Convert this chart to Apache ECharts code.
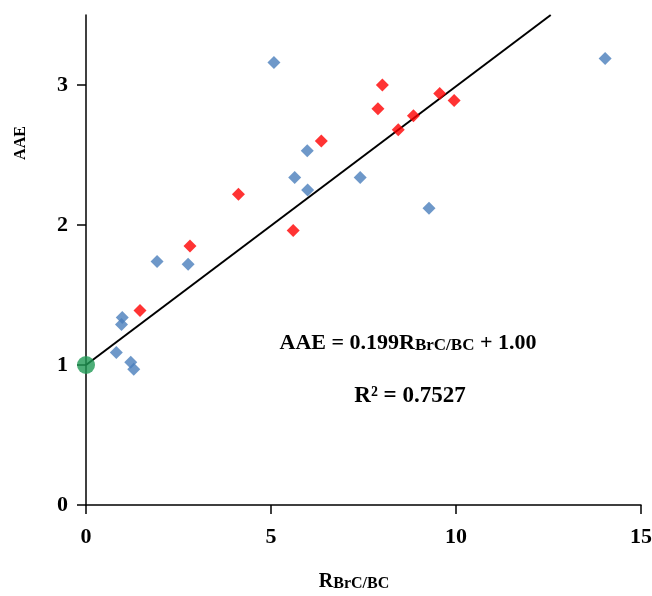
<!DOCTYPE html>
<html>
<head>
<meta charset="utf-8">
<script src="https://cdn.jsdelivr.net/npm/echarts@6/dist/echarts.min.js"></script>
<style>html,body{margin:0;padding:0;background:#fff}#c{width:652px;height:596px}</style>
</head>
<body>
<div id="c"></div>
<script>
// Blue series (x = R_BrC/BC, y = AAE)
const blueX = [5.08, 14.03, 5.98, 5.64, 5.99, 7.41, 9.27, 1.92, 2.76, 0.98, 0.96, 0.82, 1.21, 1.29];
const blueY = [3.16, 3.19, 2.53, 2.34, 2.25, 2.34, 2.12, 1.74, 1.72, 1.34, 1.29, 1.09, 1.02, 0.97];
// Red series
const redX = [8.01, 7.89, 8.44, 8.85, 9.56, 9.95, 6.36, 4.12, 5.60, 2.81, 1.46];
const redY = [3.00, 2.83, 2.68, 2.78, 2.94, 2.89, 2.60, 2.22, 1.96, 1.85, 1.39];
// Green origin point
const greenX = [0];
const greenY = [1.0];
// Regression line endpoints (AAE = 0.199 R + 1.00)
const fitX = [0, 12.56];
const fitY = [1.00, 3.50];
const xTicks = [0, 5, 10, 15];
const yTicks = [0, 1, 2, 3];

const zip = (a, b) => a.map((v, i) => [v, b[i]]);
const serif = 'Liberation Serif, Times New Roman, serif';

const chart = echarts.init(document.getElementById('c'));
chart.setOption({
  animation: false,
  backgroundColor: '#fff',
  grid: { left: 86, right: 11, top: 15, bottom: 91, containLabel: false, outerBoundsMode: 'none' },
  xAxis: {
    type: 'value', min: 0, max: 15, interval: 5,
    splitLine: { show: false },
    axisLine: { onZero: false, lineStyle: { color: '#000', width: 1.5 } },
    axisTick: { show: true, length: 9, customValues: xTicks, lineStyle: { color: '#000', width: 1.5 } },
    axisLabel: { customValues: xTicks, color: '#000', fontFamily: serif, fontWeight: 'bold', fontSize: 22, margin: 21 }
  },
  yAxis: {
    type: 'value', min: 0, max: 3.5, interval: 1,
    splitLine: { show: false },
    axisLine: { onZero: false, lineStyle: { color: '#000', width: 1.5 } },
    axisTick: { show: true, length: 9, customValues: yTicks, lineStyle: { color: '#000', width: 1.5 } },
    axisLabel: { customValues: yTicks, color: '#000', fontFamily: serif, fontWeight: 'bold', fontSize: 22, margin: 18 }
  },
  series: [
    {
      type: 'line', data: zip(fitX, fitY), symbol: 'none',
      lineStyle: { color: '#000', width: 2 }, z: 2, silent: true
    },
    {
      type: 'scatter', data: zip(blueX, blueY), symbol: 'diamond', symbolSize: [13, 13],
      itemStyle: { color: '#4a7ebb' }, z: 3
    },
    {
      type: 'scatter', data: zip(redX, redY), symbol: 'diamond', symbolSize: [13, 13],
      itemStyle: { color: '#ff0000' }, z: 3
    },
    {
      type: 'scatter', data: zip(greenX, greenY), symbol: 'circle', symbolSize: 18,
      itemStyle: { color: '#1f9a55' }, z: 4
    }
  ],
  graphic: [
    {
      type: 'text', x: 21, y: 143, rotation: Math.PI / 2,
      style: {
        text: 'AAE', align: 'center', verticalAlign: 'middle',
        fontFamily: serif, fontWeight: 'bold', fontSize: 16, fill: '#000'
      }
    },
    {
      type: 'text', x: 354, y: 580,
      style: {
        text: '{r|R}{s|BrC/BC}',
        align: 'center', verticalAlign: 'middle',
        rich: {
          r: { fontFamily: serif, fontWeight: 'bold', fontSize: 20, fill: '#000', lineHeight: 24, verticalAlign: 'bottom' },
          s: { fontFamily: serif, fontWeight: 'bold', fontSize: 16, fill: '#000', lineHeight: 22, verticalAlign: 'bottom' }
        }
      }
    },
    {
      type: 'text', x: 408, y: 341,
      style: {
        text: '{m|AAE = 0.199R}{s|BrC/BC}{m| + 1.00}',
        align: 'center', verticalAlign: 'middle',
        rich: {
          m: { fontFamily: serif, fontWeight: 'bold', fontSize: 22, fill: '#000', lineHeight: 26, verticalAlign: 'bottom' },
          s: { fontFamily: serif, fontWeight: 'bold', fontSize: 17, fill: '#000', lineHeight: 21, verticalAlign: 'bottom' }
        }
      }
    },
    {
      type: 'text', x: 410, y: 396,
      style: {
        text: 'R² = 0.7527',
        align: 'center', verticalAlign: 'middle',
        fontFamily: serif, fontWeight: 'bold', fontSize: 23, fill: '#000'
      }
    }
  ]
});
</script>
</body>
</html>
